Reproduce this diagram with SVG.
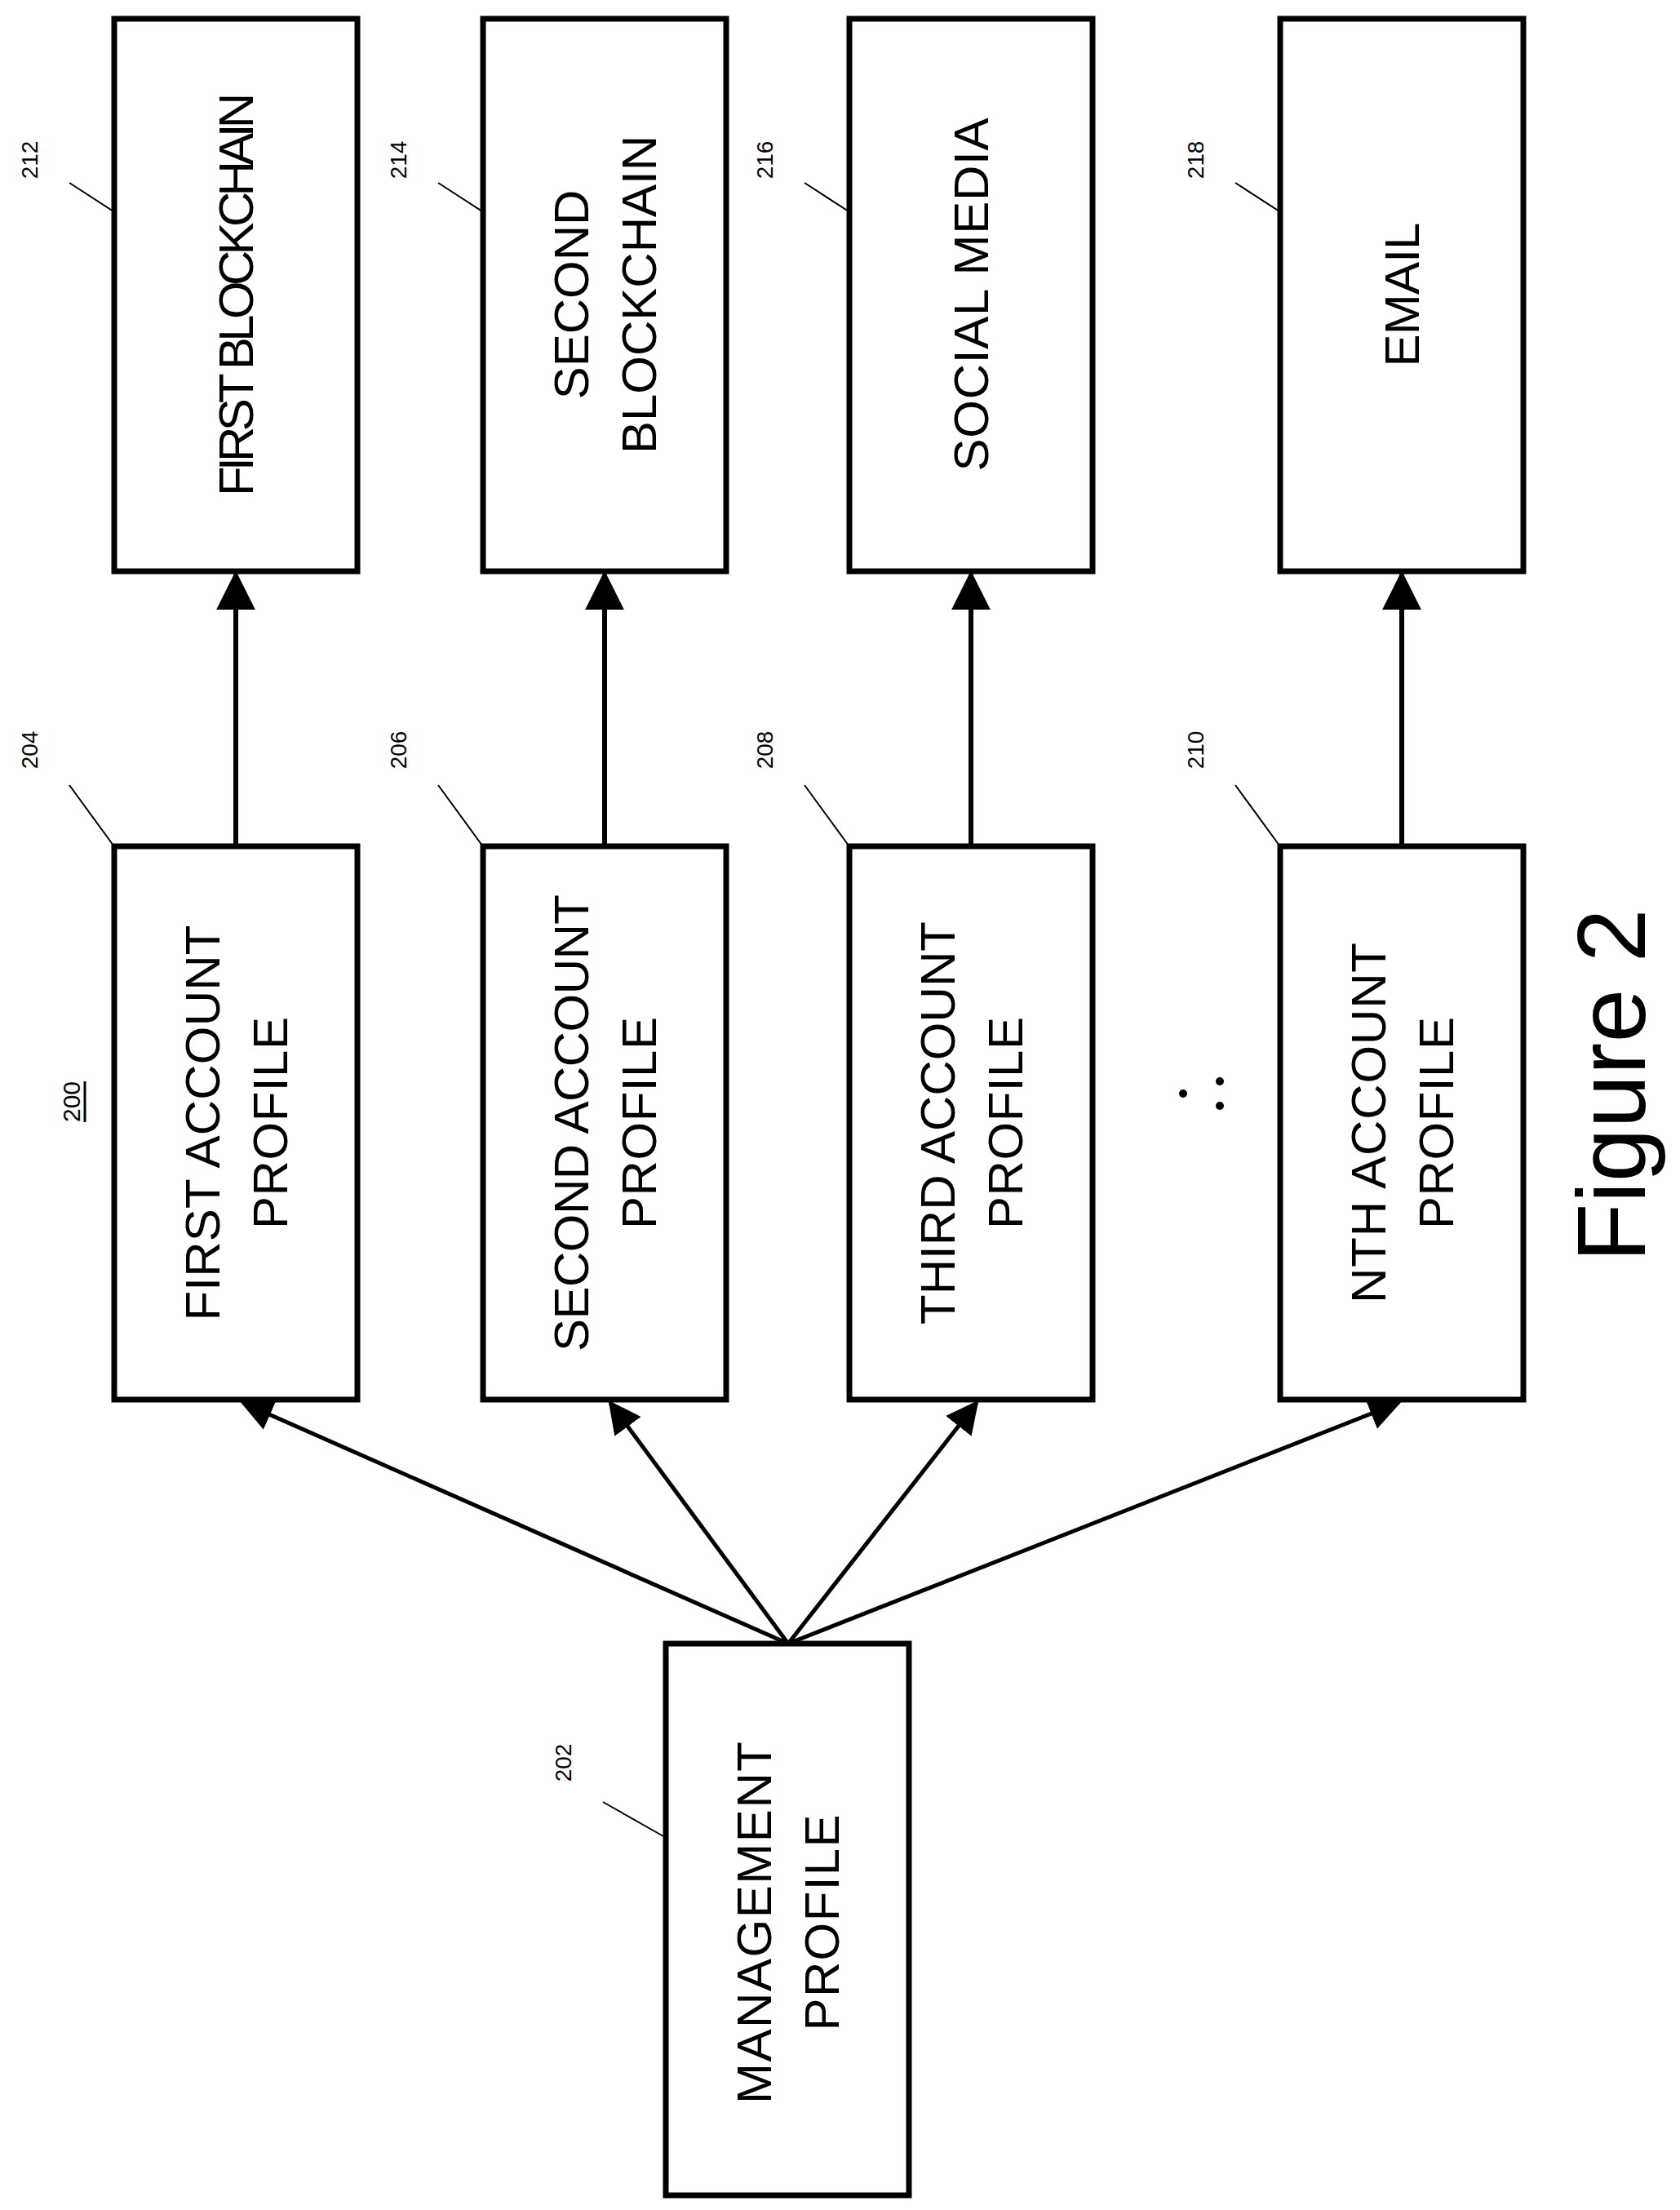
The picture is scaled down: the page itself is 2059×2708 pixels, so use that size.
<svg xmlns="http://www.w3.org/2000/svg" width="2059" height="2708" viewBox="0 0 2059 2708">
<defs>
<style>
.b{fill:#fff;stroke:#000;stroke-width:7}
.t{font-family:"Liberation Sans",Arial,sans-serif;font-size:60px;text-anchor:middle;dominant-baseline:central}
.l{font-family:"Liberation Sans",Arial,sans-serif;font-size:28px;text-anchor:middle;dominant-baseline:central}
.ld{stroke:#000;stroke-width:2;fill:none}
.c{stroke:#000;stroke-width:6;fill:none;marker-end:url(#a)}
.d{stroke:#000;stroke-width:5;fill:none;marker-end:url(#a)}
</style>
<marker id="a" viewBox="0 0 10 10" refX="9" refY="5" markerWidth="6" markerHeight="6" markerUnits="userSpaceOnUse" orient="auto"><path d="M0,0L10,5L0,10z" fill="#000"/></marker>
<marker id="a2" viewBox="0 0 10 10" refX="9" refY="5" markerWidth="8" markerHeight="8" orient="auto"><path d="M0,0L10,5L0,10z"/></marker>
</defs>
<g id="connectors">
<line class="c" x1="289" y1="1037" x2="289" y2="704" style="marker-end:url(#a2)"/>
<line class="c" x1="741" y1="1037" x2="741" y2="704" style="marker-end:url(#a2)"/>
<line class="c" x1="1190" y1="1037" x2="1190" y2="704" style="marker-end:url(#a2)"/>
<line class="c" x1="1718" y1="1037" x2="1718" y2="704" style="marker-end:url(#a2)"/>
<line class="d" x1="966" y1="2014" x2="298" y2="1719" style="marker-end:url(#a2)"/>
<line class="d" x1="966" y1="2014" x2="748" y2="1719" style="marker-end:url(#a2)"/>
<line class="d" x1="966" y1="2014" x2="1197" y2="1719" style="marker-end:url(#a2)"/>
<line class="d" x1="966" y1="2014" x2="1714" y2="1719" style="marker-end:url(#a2)"/>
</g>
<g id="n212"><rect class="b" x="140" y="23" width="298" height="677"/>
<text class="t" transform="translate(289,361) rotate(-90)" textLength="494">FIRST BLOCKCHAIN</text>
<line class="ld" x1="85" y1="224" x2="139" y2="259"/><text class="l" transform="translate(36,196) rotate(-90)">212</text></g>
<g id="n214"><rect class="b" x="592" y="23" width="298" height="677"/>
<text class="t" transform="translate(700,361) rotate(-90)">SECOND</text>
<text class="t" transform="translate(783,361) rotate(-90)" textLength="390">BLOCKCHAIN</text>
<line class="ld" x1="537" y1="224" x2="591" y2="259"/><text class="l" transform="translate(488,196) rotate(-90)">214</text></g>
<g id="n216"><rect class="b" x="1041" y="23" width="298" height="677"/>
<text class="t" transform="translate(1190,361) rotate(-90)" textLength="433">SOCIAL MEDIA</text>
<line class="ld" x1="986" y1="224" x2="1040" y2="259"/><text class="l" transform="translate(937,196) rotate(-90)">216</text></g>
<g id="n218"><rect class="b" x="1569" y="23" width="298" height="677"/>
<text class="t" transform="translate(1718,361) rotate(-90)" textLength="177">EMAIL</text>
<line class="ld" x1="1514" y1="224" x2="1568" y2="259"/><text class="l" transform="translate(1465,196) rotate(-90)">218</text></g>
<g id="n204"><rect class="b" x="140" y="1037" width="298" height="678"/>
<text class="t" transform="translate(248,1376) rotate(-90)" textLength="485">FIRST ACCOUNT</text>
<text class="t" transform="translate(331,1376) rotate(-90)" textLength="260">PROFILE</text>
<line class="ld" x1="85" y1="962" x2="139" y2="1036"/><text class="l" transform="translate(36,919) rotate(-90)">204</text></g>
<g id="n206"><rect class="b" x="592" y="1037" width="298" height="678"/>
<text class="t" transform="translate(700,1376) rotate(-90)" textLength="560">SECOND ACCOUNT</text>
<text class="t" transform="translate(783,1376) rotate(-90)" textLength="260">PROFILE</text>
<line class="ld" x1="537" y1="962" x2="591" y2="1036"/><text class="l" transform="translate(488,919) rotate(-90)">206</text></g>
<g id="n208"><rect class="b" x="1041" y="1037" width="298" height="678"/>
<text class="t" transform="translate(1149,1376) rotate(-90)" textLength="494">THIRD ACCOUNT</text>
<text class="t" transform="translate(1232,1376) rotate(-90)" textLength="260">PROFILE</text>
<line class="ld" x1="986" y1="962" x2="1040" y2="1036"/><text class="l" transform="translate(937,919) rotate(-90)">208</text></g>
<g id="n210"><rect class="b" x="1569" y="1037" width="298" height="678"/>
<text class="t" transform="translate(1677,1376) rotate(-90)" textLength="442">NTH ACCOUNT</text>
<text class="t" transform="translate(1760,1376) rotate(-90)" textLength="260">PROFILE</text>
<line class="ld" x1="1514" y1="962" x2="1568" y2="1036"/><text class="l" transform="translate(1465,919) rotate(-90)">210</text></g>
<g id="n202"><rect class="b" x="816" y="2014" width="298" height="676"/>
<text class="t" transform="translate(924,2356) rotate(-90)" textLength="444">MANAGEMENT</text>
<text class="t" transform="translate(1007,2356) rotate(-90)" textLength="265">PROFILE</text>
<line class="ld" x1="739" y1="2208" x2="813" y2="2250"/><text class="l" transform="translate(690,2160) rotate(-90)">202</text></g>
<g id="dots"><circle cx="1450" cy="1340" r="5"/><circle cx="1495" cy="1325" r="5"/><circle cx="1495" cy="1355" r="5"/></g>
<g id="label200"><text class="l" transform="translate(87,1350) rotate(-90)" style="font-size:30px;text-decoration:underline">200</text></g>
<g id="fig"><text transform="translate(1975,1330) rotate(-90)" style="font-family:'Liberation Sans',Arial,sans-serif;font-size:118px;text-anchor:middle;dominant-baseline:central">Figure 2</text></g>
</svg>
